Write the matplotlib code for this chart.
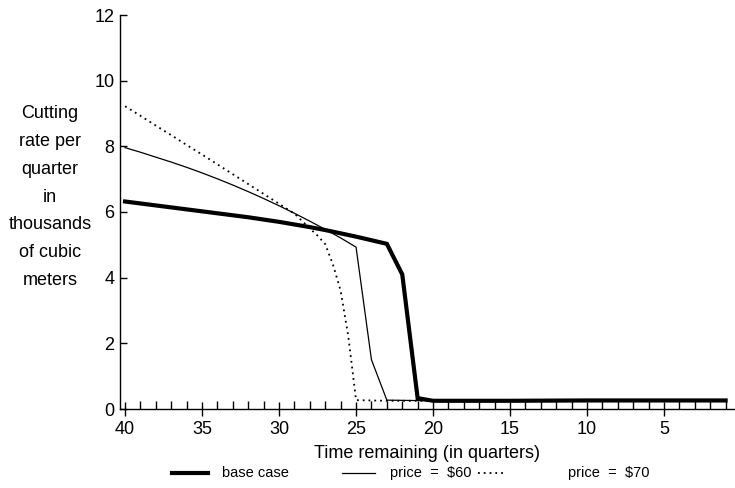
import matplotlib
matplotlib.use("Agg")
import matplotlib.pyplot as plt
from matplotlib.lines import Line2D
from matplotlib.ticker import MultipleLocator

plt.rcParams['font.family'] = ['Liberation Sans', 'DejaVu Sans']

# ---- data ----
base_t = [40, 39, 38, 37, 36, 35, 34, 33, 32, 31, 30, 29, 28, 27, 26, 25, 24, 23,
          22, 21, 20, 15, 10, 5, 1]
base_v = [6.32, 6.26, 6.20, 6.14, 6.08, 6.02, 5.96, 5.90, 5.84, 5.77, 5.70, 5.62,
          5.54, 5.45, 5.35, 5.25, 5.14, 5.03, 4.10, 0.33, 0.25, 0.25, 0.26, 0.26, 0.26]

p60_t = [40, 39, 38, 37, 36, 35, 34, 33, 32, 31, 30, 29, 28, 27, 26, 25, 24, 23,
         20, 15, 10, 5, 1]
p60_v = [7.96, 7.82, 7.67, 7.52, 7.36, 7.19, 7.01, 6.82, 6.62, 6.41, 6.19, 5.96,
         5.72, 5.47, 5.21, 4.93, 1.50, 0.27, 0.25, 0.25, 0.26, 0.26, 0.26]

p70_t = [40, 39, 38, 37, 36, 35, 34, 33, 32, 31, 30, 29, 28, 27.5, 27, 26.5, 26,
         25.5, 25, 24, 23, 20, 15, 10, 5, 1]
p70_v = [9.22, 8.93, 8.63, 8.34, 8.04, 7.75, 7.45, 7.15, 6.85, 6.55, 6.25, 5.95,
         5.50, 5.28, 5.02, 4.40, 3.60, 2.20, 0.27, 0.26, 0.25, 0.25, 0.25, 0.25,
         0.26, 0.26]

x_ticks = [40, 35, 30, 25, 20, 15, 10, 5]
y_ticks = [0, 2, 4, 6, 8, 10, 12]
legend_labels = ['base case', 'price  =  $60', 'price  =  $70']

W, H = 735, 488
fig = plt.figure(figsize=(W / 100, H / 100), dpi=100)
ax = fig.add_axes([120 / W, 1 - 409 / H, (W - 120) / W, (409 - 15) / H])

ax.plot(base_t, base_v, color='black', lw=3.0, solid_joinstyle='miter')
ax.plot(p60_t, p60_v, color='black', lw=0.9)
ax.plot(p70_t, p70_v, color='black', lw=1.3, linestyle=(0, (1, 2.2)))

ax.set_xlim(40.33, 0.39)
ax.set_ylim(0, 12)
ax.set_xticks(x_ticks)
ax.xaxis.set_minor_locator(MultipleLocator(1))
ax.set_yticks(y_ticks)

for s in ['top', 'right']:
    ax.spines[s].set_visible(False)
for s in ['left', 'bottom']:
    ax.spines[s].set_linewidth(1.0)

ax.tick_params(axis='x', which='major', direction='inout', length=10, width=1.0,
               labelsize=13, pad=3.5)
ax.tick_params(axis='x', which='minor', direction='in', length=5.5, width=1.0)
ax.tick_params(axis='y', which='major', direction='in', length=5, width=1.0,
               labelsize=13, pad=4)

ax.set_xlabel('Time remaining (in quarters)', fontsize=13, labelpad=5)

fig.text(50 / W, 1 - 197 / H,
         'Cutting\nrate per\nquarter\nin\nthousands\nof cubic\nmeters',
         ha='center', va='center', fontsize=13, linespacing=1.83)

# legend row
ly = 1 - 473 / H
handles = [((172, 208), dict(lw=3.0, linestyle='-')),
           ((342, 375), dict(lw=0.9, linestyle='-')),
           ((478, 503), dict(lw=1.3, linestyle=(0, (1, 2.2))))]
text_x = [222, 390, 568]
for (hx, kw), tx, lab in zip(handles, text_x, legend_labels):
    fig.add_artist(Line2D([hx[0] / W, hx[1] / W], [ly, ly], color='black',
                          transform=fig.transFigure, **kw))
    fig.text(tx / W, ly, lab, ha='left', va='center', fontsize=10.5)

fig.savefig('out.png', dpi=100)
